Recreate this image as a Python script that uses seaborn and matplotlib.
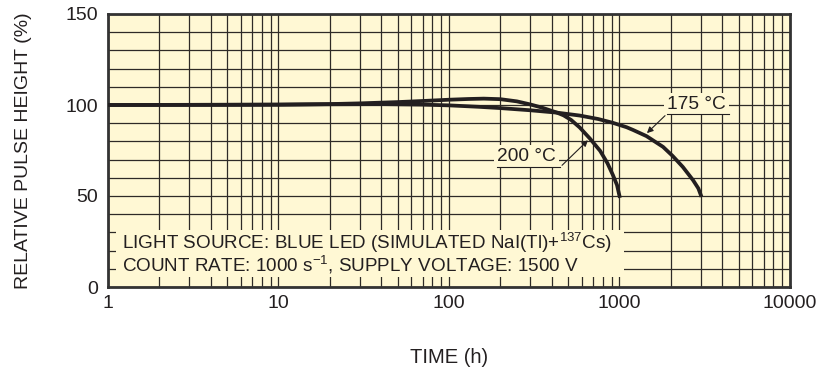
import numpy as np
import pandas as pd
import matplotlib
matplotlib.use("Agg")
import matplotlib.pyplot as plt
import seaborn as sns
from matplotlib.patches import Rectangle
from matplotlib.ticker import LogLocator, MultipleLocator, FixedLocator, FixedFormatter

# values
t_200 = [1, 5, 10, 20, 30, 50, 70, 100, 130, 160, 200, 250, 300, 350, 430, 470, 520,
         585, 670, 770, 850, 915, 967, 1000]
v_200 = [100, 100.1, 100.2, 100.5, 100.9, 101.6, 102.2, 102.9, 103.3, 103.5, 103.2, 102.0,
         100.3, 98.6, 95.8, 94.3, 91.8, 87.6, 81.6, 74.8, 68.0, 61.5, 56.0, 50.0]
t_175 = [1, 10, 20, 40, 70, 100, 150, 200, 300, 430, 585, 750, 915, 1100, 1200, 1440,
         1800, 2050, 2350, 2700, 2900, 3000]
v_175 = [100, 100.2, 100.4, 100.5, 100.2, 99.8, 99.0, 98.3, 97.1, 95.8, 94.2, 92.3, 90.2,
         87.8, 86.3, 82.9, 77.0, 72.0, 66.0, 58.7, 54.2, 50.5]

x_ticks = [1, 10, 100, 1000, 10000]
x_tick_labels = ["1", "10", "100", "1000", "10000"]
y_ticks = [0, 50, 100, 150]

df = pd.concat([
    pd.DataFrame({"time": t_200, "height": v_200, "temp": "200 °C"}),
    pd.DataFrame({"time": t_175, "height": v_175, "temp": "175 °C"}),
])

plt.rcParams["font.family"] = ["Liberation Sans", "DejaVu Sans"]
bg = "#FFF8D4"
ink = "#231F20"

fig = plt.figure(figsize=(8.2, 3.76), dpi=100)
ax = fig.add_axes([108 / 820, 89 / 376, 682 / 820, 273 / 376])
ax.set_facecolor(bg)

sns.lineplot(data=df, x="time", y="height", hue="temp", palette=[ink, ink],
             linewidth=2.7, legend=False, ax=ax, zorder=4, solid_joinstyle="round")

ax.set_xscale("log")
ax.set_xlim(1, 10000)
ax.set_ylim(0, 150)

ax.xaxis.set_major_locator(FixedLocator(x_ticks))
ax.xaxis.set_major_formatter(FixedFormatter(x_tick_labels))
ax.xaxis.set_minor_locator(LogLocator(base=10, subs=np.arange(2, 10)))
ax.xaxis.set_minor_formatter(plt.NullFormatter())
ax.yaxis.set_major_locator(FixedLocator(y_ticks))
ax.yaxis.set_minor_locator(MultipleLocator(10))

ax.grid(True, which="both", axis="both", color="#2e2a26", linewidth=0.9)
ax.set_axisbelow(True)
ax.tick_params(which="both", length=0, labelsize=14, colors=ink)
ax.tick_params(axis="x", pad=6)
ax.tick_params(axis="y", pad=7)

for s in ax.spines.values():
    s.set_linewidth(2.0)
    s.set_color("#333333")

ax.set_xlabel("TIME (h)", fontsize=14.5, color=ink)
ax.set_ylabel("RELATIVE PULSE HEIGHT (%)", fontsize=14, color=ink)
ax.xaxis.set_label_coords(0.5, -0.225)
ax.yaxis.set_label_coords(-0.111, 0.5)

# curve labels with underline and arrow
box = dict(boxstyle="square,pad=0.15", fc=bg, ec="none")
ax.text(1900, 100.5, "175 °C", fontsize=13.8, color=ink, ha="left", va="center", bbox=box, zorder=5)
ax.plot([1900, 4370], [95.2, 95.2], color=ink, lw=0.8, zorder=5)
ax.annotate("", xy=(1410, 83.5), xytext=(1900, 95.2),
            arrowprops=dict(arrowstyle="-|>", color=ink, lw=0.8, mutation_scale=9), zorder=5)

ax.text(191, 71.5, "200 °C", fontsize=13.8, color=ink, ha="left", va="center", bbox=box, zorder=5)
ax.plot([191, 448], [65.8, 65.8], color=ink, lw=0.8, zorder=5)
ax.annotate("", xy=(671, 81.7), xytext=(448, 65.8),
            arrowprops=dict(arrowstyle="-|>", color=ink, lw=0.8, mutation_scale=9), zorder=5)

# condition note on a plain background patch
ax.add_patch(Rectangle((1.11, 5.5), 1062 - 1.11, 26.0, facecolor=bg, edgecolor="none", zorder=3))
ax.text(1.21, 24.0, "LIGHT SOURCE: BLUE LED (SIMULATED NaI(Tl)+$\\mathregular{^{137}}$Cs)",
        fontsize=13.6, color=ink, ha="left", va="center", zorder=5)
ax.text(1.21, 12.0, "COUNT RATE: 1000 s$\\mathregular{^{-1}}$, SUPPLY VOLTAGE: 1500 V",
        fontsize=13.6, color=ink, ha="left", va="center", zorder=5)

fig.savefig("out.png", dpi=100)
